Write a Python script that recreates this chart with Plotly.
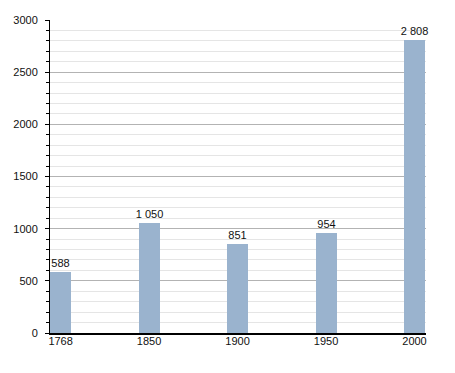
import plotly.graph_objects as go

years = ["1768", "1850", "1900", "1950", "2000"]
population = [588, 1050, 851, 954, 2808]
labels = [f"{v:,}".replace(",", " ") for v in population]

fig = go.Figure(go.Bar(
    x=years, y=population, text=labels,
    textposition="outside", constraintext="none", cliponaxis=False,
    textfont=dict(size=11, color="#111"),
    marker=dict(color="#9AB3CE", line=dict(width=0)),
    width=0.237,
))

fig.update_layout(
    width=455, height=373,
    margin=dict(l=50, r=29, t=20, b=40),
    paper_bgcolor="white", plot_bgcolor="white",
    font=dict(family="Liberation Sans, Arial, sans-serif", size=11, color="#111"),
    showlegend=False,
    bargap=0,
)
fig.update_xaxes(
    type="category", range=[-0.12, 4.13],
    showline=True, linecolor="black", linewidth=1.5,
    ticks="", showgrid=False, tickfont=dict(size=11),
    ticklabelstandoff=-3,
)
fig.update_yaxes(
    range=[0, 3000], dtick=500,
    showline=True, linecolor="black", linewidth=1,
    ticks="outside", ticklen=4, tickcolor="black",
    showgrid=True, gridcolor="#b3b3b3", gridwidth=1,
    zeroline=False,
    minor=dict(dtick=100, showgrid=True, gridcolor="#e5e5e5",
               ticks="outside", ticklen=3, tickcolor="black"),
    tickfont=dict(size=11),
    ticklabelstandoff=5,
)

fig.write_html("out.html")
